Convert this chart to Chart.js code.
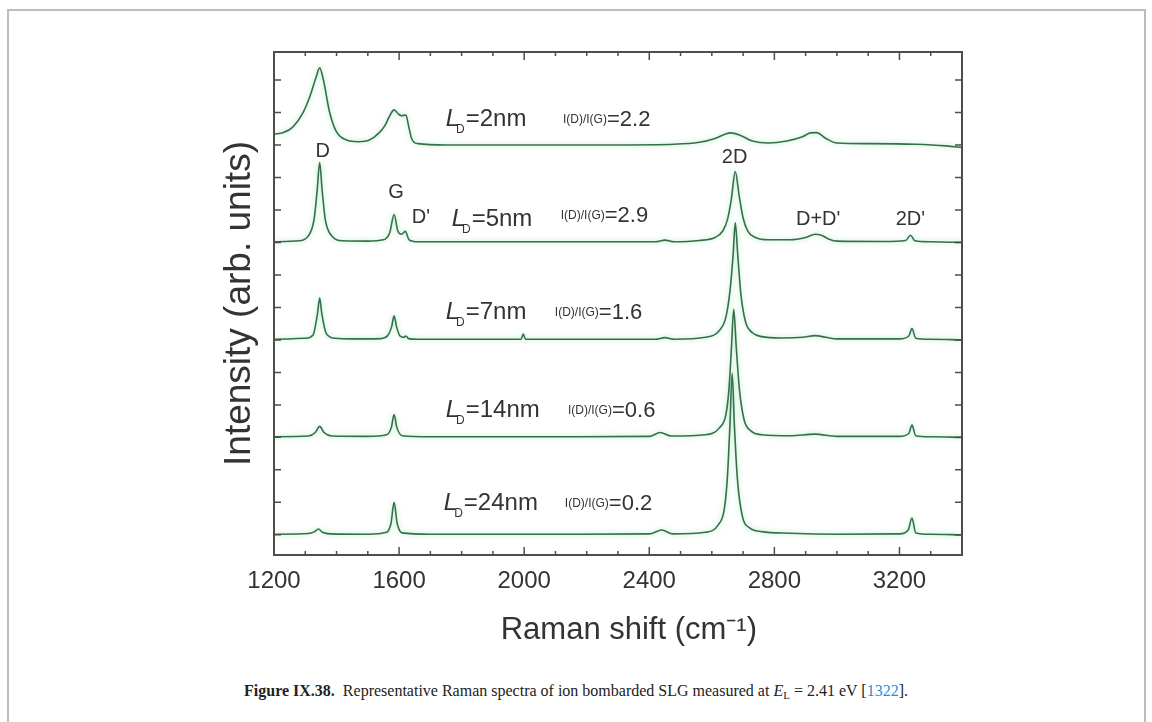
<!DOCTYPE html>
<html>
<head>
<meta charset="utf-8">
<script src="https://cdn.jsdelivr.net/npm/chart.js@4.4.1/dist/chart.umd.min.js"></script>
<style>
  html, body { margin: 0; padding: 0; background: #fff; }
  body { width: 1152px; height: 722px; position: relative; overflow: hidden; }
  #frame { position: absolute; left: 7px; top: 9px; width: 1135px; height: 730px;
           border: 2px solid #bdbdbd; border-bottom: none; }
  #wrap { position: absolute; left: 0; top: 0; width: 1152px; height: 680px; }
  #caption { position: absolute; left: 0; top: 682px; width: 1152px; text-align: center;
             font-family: 'Liberation Serif', 'DejaVu Serif', serif; font-size: 16px; color: #222; }
  #caption sub { font-size: 11px; vertical-align: -3px; line-height: 0; }
  #caption .ref { color: #1f8fd6; }
</style>
</head>
<body>
<div id="frame"></div>
<div id="wrap"><canvas id="chart" width="1152" height="680"></canvas></div>
<div id="caption"><b>Figure IX.38.</b>&nbsp;&nbsp;Representative Raman spectra of ion bombarded SLG measured at <i>E</i><sub>L</sub> = 2.41 eV [<span class="ref">1322</span>].</div>
<script>
// Raman shift (cm-1) and intensity (arb. units), one pair per spectrum
const shift2nm = [1200, 1230, 1260, 1292, 1315, 1335, 1346, 1358, 1378, 1400, 1432, 1470, 1505, 1536, 1555, 1568, 1584, 1598, 1608, 1622, 1630, 1640, 1660, 1750, 2000, 2300, 2480, 2560, 2610, 2640, 2660, 2690, 2730, 2780, 2840, 2890, 2915, 2935, 2965, 3000, 3100, 3250, 3350, 3400];
const int2nm   = [0.33, 0.38, 0.55, 0.98, 1.5, 2.1, 2.37, 2.0, 1.0, 0.4, 0.15, 0.1, 0.15, 0.37, 0.6, 0.86, 1.08, 0.95, 0.9, 0.92, 0.6, 0.2, 0.04, 0.0, 0.0, 0.0, 0.02, 0.08, 0.2, 0.32, 0.37, 0.3, 0.12, 0.06, 0.12, 0.25, 0.37, 0.38, 0.2, 0.06, 0.04, 0.02, -0.03, -0.08];

const shift5nm = [1200, 1280, 1310, 1328, 1338, 1346, 1354, 1364, 1385, 1420, 1500, 1550, 1570, 1584, 1596, 1608, 1620, 1632, 1660, 1800, 2100, 2420, 2450, 2480, 2560, 2610, 2635, 2650, 2662, 2675, 2688, 2700, 2715, 2740, 2780, 2850, 2900, 2930, 2950, 2975, 3000, 3150, 3220, 3235, 3250, 3300, 3400];
const int5nm   = [0.02, 0.05, 0.2, 0.7, 1.6, 2.46, 1.6, 0.7, 0.2, 0.05, 0.04, 0.08, 0.3, 0.86, 0.35, 0.25, 0.34, 0.08, 0.02, 0.02, 0.02, 0.02, 0.07, 0.02, 0.06, 0.15, 0.35, 0.7, 1.3, 2.18, 1.4, 0.75, 0.35, 0.15, 0.08, 0.08, 0.15, 0.25, 0.22, 0.1, 0.04, 0.03, 0.06, 0.22, 0.05, 0.02, 0.0];

const shift7nm = [1200, 1300, 1325, 1339, 1346, 1353, 1367, 1395, 1450, 1540, 1565, 1576, 1584, 1592, 1603, 1615, 1622, 1630, 1660, 1800, 1990, 1997, 2004, 2200, 2420, 2450, 2480, 2580, 2625, 2645, 2658, 2668, 2675, 2683, 2693, 2708, 2730, 2760, 2820, 2890, 2930, 2965, 3000, 3200, 3230, 3240, 3252, 3300, 3400];
const int7nm   = [0.02, 0.05, 0.15, 0.8, 1.29, 0.8, 0.2, 0.05, 0.03, 0.04, 0.15, 0.4, 0.74, 0.4, 0.12, 0.08, 0.12, 0.04, 0.02, 0.02, 0.02, 0.18, 0.02, 0.02, 0.02, 0.07, 0.02, 0.08, 0.3, 0.7, 1.5, 2.6, 3.6, 2.6, 1.4, 0.55, 0.22, 0.1, 0.06, 0.08, 0.13, 0.08, 0.03, 0.03, 0.12, 0.35, 0.05, 0.02, 0.0];

const shift14nm = [1200, 1310, 1332, 1346, 1360, 1385, 1500, 1560, 1575, 1584, 1593, 1610, 1700, 2100, 2400, 2435, 2470, 2580, 2625, 2645, 2655, 2663, 2670, 2678, 2688, 2703, 2725, 2760, 2850, 2930, 3000, 3200, 3230, 3240, 3252, 3300, 3400];
const int14nm   = [0.02, 0.04, 0.15, 0.34, 0.15, 0.04, 0.03, 0.08, 0.3, 0.7, 0.3, 0.05, 0.02, 0.02, 0.03, 0.15, 0.04, 0.08, 0.3, 0.7, 1.5, 2.8, 3.94, 2.8, 1.5, 0.55, 0.2, 0.08, 0.05, 0.1, 0.03, 0.03, 0.12, 0.38, 0.05, 0.02, 0.0];

const shift24nm = [1200, 1310, 1330, 1342, 1355, 1380, 1500, 1560, 1574, 1584, 1594, 1610, 1700, 2100, 2400, 2440, 2475, 2580, 2620, 2640, 2650, 2658, 2665, 2672, 2682, 2697, 2720, 2760, 2850, 3000, 3200, 3228, 3240, 3252, 3300, 3400];
const int24nm   = [0.02, 0.04, 0.1, 0.18, 0.08, 0.03, 0.02, 0.08, 0.35, 1.0, 0.35, 0.06, 0.02, 0.02, 0.03, 0.15, 0.03, 0.08, 0.3, 0.8, 1.8, 3.4, 4.98, 3.4, 1.7, 0.6, 0.22, 0.1, 0.05, 0.02, 0.03, 0.15, 0.52, 0.06, 0.02, 0.0];

// vertical stacking offset of each spectrum
const sizes = ['2nm', '5nm', '7nm', '14nm', '24nm'];
const offsets = [12, 9, 6, 3, 0];
const ratios = ['2.2', '2.9', '1.6', '0.6', '0.2'];

// x tick labels
const xTicks = [1200, 1600, 2000, 2400, 2800, 3200];

// text anchors, in data units
const sizeLabelX = [1749, 1768, 1749, 1749, 1743];
const sizeLabelY = [12.58, 9.51, 6.65, 3.63, 0.77];
const ratioLabelX = [2124, 2117, 2098, 2140, 2130];
const ratioLabelY = [12.58, 9.63, 6.65, 3.63, 0.77];
const peakNames = ['D', 'G', "D'", '2D', "D+D'", "2D'"];
const peakX = [1356, 1590, 1670, 2673, 2940, 3235];
const peakY = [11.63, 10.37, 9.6, 11.45, 9.54, 9.54];

const SANS = "'Liberation Sans', Arial, Helvetica, sans-serif";
const TEXT = '#333';
const LINE = '#36704a';

const spectra = [
    [shift2nm, int2nm],
    [shift5nm, int5nm],
    [shift7nm, int7nm],
    [shift14nm, int14nm],
    [shift24nm, int24nm],
];

const datasets = spectra.map(([xs, ys], i) => ({
    label: 'L_D=' + sizes[i],
    data: xs.map((x, k) => ({ x, y: ys[k] + offsets[i] })),
    borderColor: LINE,
    borderWidth: 1.6,
    pointRadius: 0,
    fill: false,
    cubicInterpolationMode: 'monotone',
}));

const frameAndText = {
    id: 'frameAndText',
    beforeDatasetsDraw(chart) {
        const ctx = chart.ctx;
        ctx.save();
        ctx.shadowColor = 'rgba(90, 210, 130, 0.55)';
        ctx.shadowBlur = 5;
    },
    afterDatasetsDraw(chart) {
        chart.ctx.restore();
    },
    afterDraw(chart) {
        const { ctx, chartArea: a, scales: { x, y } } = chart;
        ctx.save();

        // box
        ctx.strokeStyle = '#4d4d4d';
        ctx.lineWidth = 2;
        ctx.strokeRect(a.left, a.top, a.right - a.left, a.bottom - a.top);

        // inward ticks
        ctx.lineWidth = 1.5;
        ctx.beginPath();
        for (let v = 1200; v <= 3400; v += 100) {
            const px = x.getPixelForValue(v);
            const len = v % 400 === 0 ? 8 : 4;
            ctx.moveTo(px, a.bottom); ctx.lineTo(px, a.bottom - len);
            ctx.moveTo(px, a.top); ctx.lineTo(px, a.top + len);
        }
        for (let v = 0; v <= 14; v++) {
            const py = y.getPixelForValue(v);
            ctx.moveTo(a.left, py); ctx.lineTo(a.left + 7, py);
            ctx.moveTo(a.right, py); ctx.lineTo(a.right - 7, py);
        }
        ctx.stroke();

        ctx.fillStyle = TEXT;
        ctx.textBaseline = 'alphabetic';

        // L_D = ... labels
        sizes.forEach((s, i) => {
            let px = x.getPixelForValue(sizeLabelX[i]);
            const py = y.getPixelForValue(sizeLabelY[i]);
            ctx.textAlign = 'left';
            ctx.font = 'italic 24px ' + SANS;
            ctx.fillText('L', px, py);
            px += ctx.measureText('L').width - 3;
            ctx.font = '12px ' + SANS;
            ctx.fillText('D', px, py + 7);
            px += ctx.measureText('D').width + 1;
            ctx.font = '24px ' + SANS;
            ctx.fillText('=' + s, px, py);

            // I(D)/I(G) ratio
            let rx = x.getPixelForValue(ratioLabelX[i]);
            const ry = y.getPixelForValue(ratioLabelY[i]);
            ctx.font = '12px ' + SANS;
            ctx.fillText('I(D)/I(G)', rx, ry - 3);
            rx += ctx.measureText('I(D)/I(G)').width;
            ctx.font = '22px ' + SANS;
            ctx.fillText('=' + ratios[i], rx, ry);
        });

        // peak names
        ctx.textAlign = 'center';
        ctx.font = '20px ' + SANS;
        peakNames.forEach((n, i) => {
            ctx.fillText(n, x.getPixelForValue(peakX[i]), y.getPixelForValue(peakY[i]));
        });

        ctx.restore();
    },
};

new Chart(document.getElementById('chart'), {
    type: 'line',
    data: { datasets },
    options: {
        responsive: false,
        animation: false,
        layout: { padding: { left: 204, right: 190, top: 52, bottom: 25 } },
        plugins: {
            legend: { display: false },
            tooltip: { enabled: false },
        },
        scales: {
            x: {
                type: 'linear',
                min: 1200,
                max: 3400,
                afterFit: (s) => { s.height = 100; },
                afterBuildTicks: (s) => { s.ticks = xTicks.map((v) => ({ value: v })); },
                grid: { display: false, drawTicks: false },
                border: { display: false },
                ticks: {
                    padding: 12,
                    color: TEXT,
                    maxRotation: 0,
                    autoSkip: false,
                    font: { family: SANS, size: 24 },
                    callback: (v) => String(v),
                },
                title: {
                    display: true,
                    // leading spaces nudge the centred title to the right, as in the original
                    text: '\u2002\u2009Raman shift (cm\u207B\u00B9)',
                    color: TEXT,
                    font: { family: SANS, size: 31 },
                    padding: { top: 0, bottom: 6 },
                },
            },
            y: {
                type: 'linear',
                min: -0.62,
                max: 14.86,
                afterFit: (s) => { s.width = 70; },
                grid: { display: false, drawTicks: false },
                border: { display: false },
                ticks: { display: false },
                title: {
                    display: true,
                    text: 'Intensity (arb. units)',
                    color: TEXT,
                    font: { family: SANS, size: 37 },
                    padding: { top: 14, bottom: 0 },
                },
            },
        },
    },
    plugins: [frameAndText],
});
</script>
</body>
</html>
